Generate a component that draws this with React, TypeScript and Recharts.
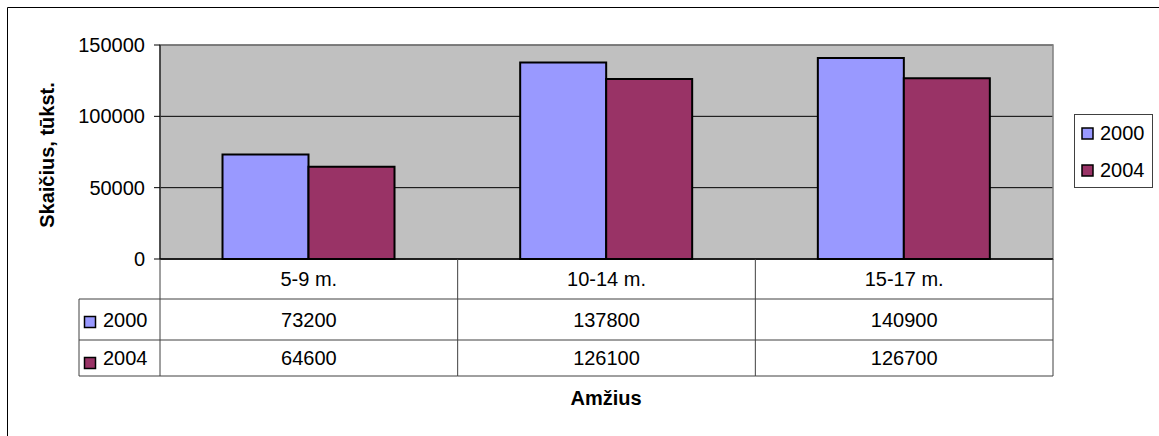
import React from "react";
import {
  BarChart,
  Bar,
  XAxis,
  YAxis,
  CartesianGrid,
  ReferenceArea,
} from "recharts";

const categories = ["5-9 m.", "10-14 m.", "15-17 m."];
const values2000 = [73200, 137800, 140900];
const values2004 = [64600, 126100, 126700];
const seriesNames = ["2000", "2004"];
const seriesColors = ["#9999FF", "#993366"];
const yTicks = [0, 50000, 100000, 150000];

const seriesValues = [values2000, values2004];

const data = categories.map((c, i) => ({
  name: c,
  s2000: values2000[i],
  s2004: values2004[i],
}));

const FONT = "'Liberation Sans', Arial, sans-serif";
const LINE = "#404040";

// x axis tick that draws one column of the data table under the plot
function TableTick(props: any) {
  const { x, y, payload, index } = props;
  const half = payload && payload.offset ? payload.offset : 148.8;
  const left = x - half;
  const right = x + half;
  const r1 = y + 40;
  const r2 = y + 81;
  const bottom = y + 117;
  const legendLeft = left - 81;
  return (
    <g fontFamily={FONT} fontSize={20} fill="#000">
      {index === 0 && (
        <g>
          <line x1={left} y1={y} x2={left} y2={bottom} stroke={LINE} />
          <line x1={legendLeft} y1={r1} x2={legendLeft} y2={bottom} stroke={LINE} />
          <line x1={legendLeft} y1={r1} x2={left} y2={r1} stroke={LINE} />
          <line x1={legendLeft} y1={r2} x2={left} y2={r2} stroke={LINE} />
          <line x1={legendLeft} y1={bottom} x2={left} y2={bottom} stroke={LINE} />
          {seriesNames.map((s, k) => (
            <g key={s}>
              <rect
                x={legendLeft + 5.5}
                y={(k === 0 ? r1 : r2) + 17.5}
                width={11}
                height={11}
                fill={seriesColors[k]}
                stroke="#000"
                strokeWidth={1.5}
              />
              <text x={legendLeft + 24} y={(k === 0 ? r1 : r2) + (k === 0 ? 28 : 25)} fill="#000">
                {s}
              </text>
            </g>
          ))}
        </g>
      )}
      <line x1={right} y1={y} x2={right} y2={bottom} stroke={LINE} />
      <line x1={left} y1={r1} x2={right} y2={r1} stroke={LINE} />
      <line x1={left} y1={r2} x2={right} y2={r2} stroke={LINE} />
      <line x1={left} y1={bottom} x2={right} y2={bottom} stroke={LINE} />
      <text x={x} y={y + 27} textAnchor="middle" fill="#000">
        {payload.value}
      </text>
      {seriesValues.map((vals, k) => (
        <text
          key={k}
          x={x}
          y={k === 0 ? r1 + 28 : r2 + 25}
          textAnchor="middle"
          fill="#000"
        >
          {vals[index]}
        </text>
      ))}
    </g>
  );
}

export default function App() {
  return (
    <div
      style={{
        position: "absolute",
        left: 0,
        top: 0,
        width: 1159,
        height: 436,
        background: "#fff",
        fontFamily: FONT,
      }}
    >
      <BarChart
        width={1159}
        height={436}
        data={data}
        margin={{ top: 45, right: 106, left: 100, bottom: 47 }}
        barCategoryGap="21%"
        barGap={0}
      >
        <CartesianGrid
          vertical={false}
          stroke="#000"
          fill="#C0C0C0"
          fillOpacity={1}
        />
        <ReferenceArea
          y1={0}
          y2={150000}
          fill="none"
          stroke="#808080"
          strokeWidth={1.5}
          ifOverflow="visible"
        />
        <XAxis
          dataKey="name"
          height={130}
          axisLine={{ stroke: "#000", strokeWidth: 1.5 }}
          tickLine={false}
          tickSize={0}
          tickMargin={0}
          interval={0}
          tick={<TableTick />}
        />
        <YAxis
          width={60}
          domain={[0, 150000]}
          ticks={yTicks}
          interval={0}
          axisLine={{ stroke: "#000" }}
          tickLine={{ stroke: "#000" }}
          tickSize={6}
          tickMargin={9}
          tick={{ fill: "#000", fontSize: 20, fontFamily: FONT }}
        />
        <Bar
          dataKey="s2000"
          name={seriesNames[0]}
          fill={seriesColors[0]}
          stroke="#000"
          strokeWidth={2}
          isAnimationActive={false}
        />
        <Bar
          dataKey="s2004"
          name={seriesNames[1]}
          fill={seriesColors[1]}
          stroke="#000"
          strokeWidth={2}
          isAnimationActive={false}
        />
      </BarChart>
      <svg
        width={1159}
        height={436}
        style={{ position: "absolute", left: 0, top: 0, pointerEvents: "none" }}
      >
        <line x1={7.5} y1={7.5} x2={1159} y2={7.5} stroke="#000" />
        <line x1={7.5} y1={7.5} x2={7.5} y2={436} stroke="#000" />
        <text
          x={47}
          y={155}
          transform="rotate(-90 47 155)"
          textAnchor="middle"
          dominantBaseline="central"
          fontFamily={FONT}
          fontSize={20}
          fontWeight="bold"
          fill="#000"
        >
          Skaičius, tūkst.
        </text>
        <text
          x={606}
          y={405}
          textAnchor="middle"
          fontFamily={FONT}
          fontSize={20}
          fontWeight="bold"
          fill="#000"
        >
          Amžius
        </text>
        <rect x={1074.5} y={114.5} width={78} height={73} fill="#fff" stroke={LINE} />
        {seriesNames.map((s, k) => (
          <g key={s}>
            <rect
              x={1082}
              y={128 + k * 37}
              width={11}
              height={11}
              fill={seriesColors[k]}
              stroke="#000"
              strokeWidth={1.5}
            />
            <text x={1100} y={140 + k * 37} fontFamily={FONT} fontSize={20} fill="#000">
              {s}
            </text>
          </g>
        ))}
      </svg>
    </div>
  );
}
